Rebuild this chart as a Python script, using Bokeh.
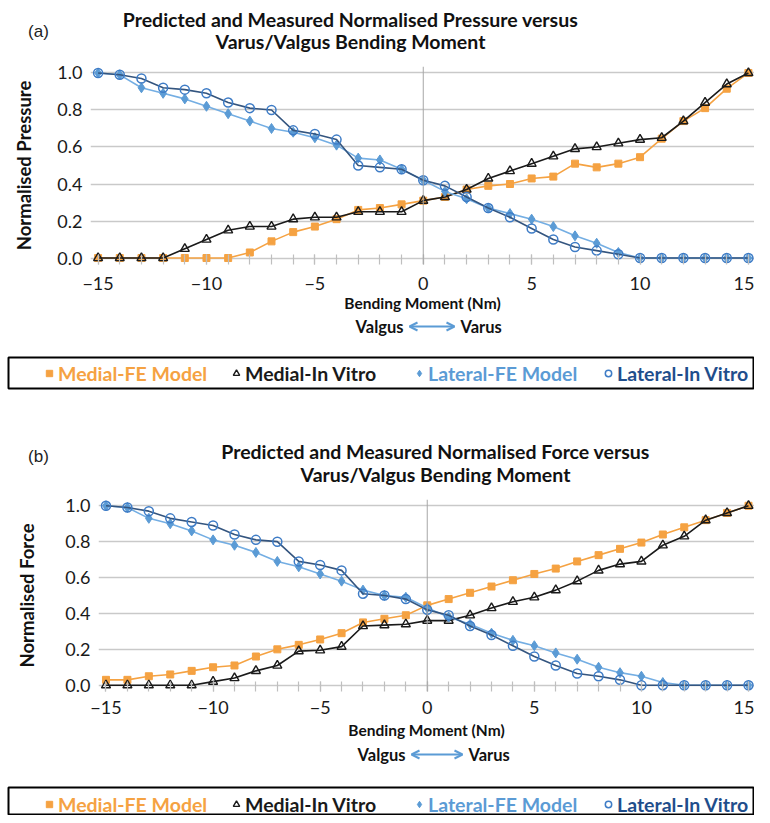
from bokeh.plotting import figure
from bokeh.models import (Range1d, FixedTicker, NumeralTickFormatter, Span, Label, Legend,
                          LegendItem, BoxAnnotation, Arrow, OpenHead)
from bokeh.layouts import column
from bokeh.embed import file_html
from bokeh.resources import INLINE

# ---------------- data ----------------
moment = list(range(-15, 16))
x_ticks = [-15, -10, -5, 0, 5, 10, 15]
x_tick_labels = ["\u221215", "\u221210", "\u22125", "0", "5", "10", "15"]
y_ticks = [0.0, 0.2, 0.4, 0.6, 0.8, 1.0]
series_names = ["Medial-FE Model", "Medial-In Vitro", "Lateral-FE Model", "Lateral-In Vitro"]

# (a) normalised pressure
pressure_medial_fe = [0, 0, 0, 0, 0, 0, 0, 0.03, 0.09, 0.14, 0.17, 0.21, 0.26, 0.27, 0.29, 0.31,
                      0.33, 0.37, 0.39, 0.40, 0.43, 0.44, 0.51, 0.49, 0.51, 0.545, 0.645, 0.74,
                      0.81, 0.915, 1.00]
pressure_medial_iv = [0, 0, 0, 0, 0.05, 0.10, 0.15, 0.17, 0.17, 0.21, 0.22, 0.22, 0.25, 0.25, 0.25,
                      0.31, 0.33, 0.37, 0.43, 0.47, 0.51, 0.55, 0.59, 0.60, 0.62, 0.64, 0.65, 0.74,
                      0.84, 0.94, 1.00]
pressure_lateral_fe = [1.00, 0.99, 0.92, 0.89, 0.86, 0.82, 0.78, 0.74, 0.70, 0.68, 0.65, 0.61, 0.54,
                       0.53, 0.48, 0.42, 0.36, 0.32, 0.27, 0.24, 0.21, 0.17, 0.12, 0.08, 0.03, 0, 0,
                       0, 0, 0, 0]
pressure_lateral_iv = [1.00, 0.99, 0.97, 0.92, 0.91, 0.89, 0.84, 0.81, 0.80, 0.69, 0.67, 0.64, 0.50,
                       0.49, 0.48, 0.42, 0.39, 0.33, 0.27, 0.22, 0.16, 0.10, 0.06, 0.04, 0.02, 0, 0,
                       0, 0, 0, 0]

# (b) normalised force
force_medial_fe = [0.03, 0.03, 0.05, 0.06, 0.08, 0.10, 0.11, 0.16, 0.20, 0.225, 0.255, 0.29, 0.35,
                   0.37, 0.39, 0.445, 0.48, 0.515, 0.55, 0.585, 0.62, 0.65, 0.69, 0.725, 0.76, 0.795,
                   0.84, 0.88, 0.92, 0.96, 1.00]
force_medial_iv = [0, 0, 0, 0, 0, 0.02, 0.04, 0.08, 0.11, 0.19, 0.195, 0.215, 0.33, 0.335, 0.34,
                   0.36, 0.36, 0.39, 0.43, 0.465, 0.49, 0.53, 0.58, 0.64, 0.675, 0.69, 0.78, 0.83,
                   0.92, 0.96, 1.00]
force_lateral_fe = [1.00, 0.99, 0.93, 0.90, 0.86, 0.81, 0.78, 0.74, 0.69, 0.66, 0.62, 0.58, 0.53,
                    0.50, 0.49, 0.43, 0.38, 0.34, 0.29, 0.25, 0.22, 0.18, 0.145, 0.10, 0.07, 0.05,
                    0.015, 0, 0, 0, 0]
force_lateral_iv = [1.00, 0.99, 0.97, 0.93, 0.91, 0.89, 0.84, 0.81, 0.80, 0.69, 0.67, 0.64, 0.51,
                    0.50, 0.48, 0.42, 0.39, 0.33, 0.28, 0.22, 0.16, 0.11, 0.065, 0.05, 0.03, 0, 0,
                    0, 0, 0, 0]

# ---------------- style ----------------
ORANGE = "#F5A242"
BLACK = "#1A1A1A"
LIGHT_BLUE = "#5B9BD5"
LIGHT_BLUE_LINE = "#74AEE3"
DARK_LINE = "#34557F"
CIRCLE_EDGE = "#3E7CC6"
LEG_COLORS = [ORANGE, BLACK, LIGHT_BLUE, "#1F4E8C"]
GRID = "#C9C9C9"
ARROW = "#5B9BD5"
FONT = "Lato"
W = 754

STYLES = [
    dict(marker="square", size=7, fill_color=ORANGE, line_color=ORANGE, line_width=1),
    dict(marker="triangle", size=9, fill_color=None, line_color=BLACK, line_width=1.4),
    dict(marker="diamond", size=10, fill_color=LIGHT_BLUE, line_color=LIGHT_BLUE, line_width=1),
    dict(marker="circle", size=9, fill_color=None, line_color=CIRCLE_EDGE, line_width=1.5),
]
LINE_COLORS = [ORANGE, BLACK, LIGHT_BLUE_LINE, DARK_LINE]


def text_fig(height):
    f = figure(width=W, height=height, x_range=Range1d(0, W), y_range=Range1d(height, 0),
               x_axis_type=None, y_axis_type=None, output_backend="svg",
               toolbar_location=None, min_border=0, frame_align=False)
    f.outline_line_color = None
    f.background_fill_color = "white"
    f.border_fill_color = "white"
    return f


def header(cfg):
    f = text_fig(cfg["h_head"])
    for txt, yy in zip(cfg["titles"], cfg["title_y"]):
        f.add_layout(Label(x=cfg["title_x"], y=yy, text=txt, text_align="center",
                           text_baseline="middle", text_font=FONT, text_font_style="bold",
                           text_font_size="19.5px", text_color="#111111"))
    f.add_layout(Label(x=cfg["tag_xy"][0], y=cfg["tag_xy"][1], text=cfg["tag"],
                       text_align="center", text_baseline="middle",
                       text_font="Liberation Sans", text_font_size="17px",
                       text_color="#222222"))
    return f


def main_plot(cfg, series):
    p = figure(width=W, height=cfg["h_main"], x_range=Range1d(*cfg["xr"]),
               y_range=Range1d(-0.035, 1.035), output_backend="svg", toolbar_location=None,
               min_border_left=cfg["left"], min_border_right=0, min_border_top=cfg["top"],
               min_border_bottom=cfg["bottom"], frame_align=False)
    p.outline_line_color = None
    p.background_fill_color = "white"
    p.border_fill_color = "white"

    p.xgrid.visible = False
    p.ygrid.ticker = FixedTicker(ticks=y_ticks)
    p.ygrid.grid_line_color = GRID
    p.ygrid.grid_line_width = 1.5

    xa = p.xaxis[0]
    xa.ticker = FixedTicker(ticks=x_ticks, minor_ticks=moment)
    xa.major_label_overrides = {t: l for t, l in zip(x_ticks, x_tick_labels)}
    xa.axis_line_color = None
    xa.major_tick_line_color = "#BFBFBF"
    xa.minor_tick_line_color = "#BFBFBF"
    xa.major_tick_line_width = 1.2
    xa.minor_tick_line_width = 1.2
    xa.major_tick_in = 10
    xa.major_tick_out = 0
    xa.minor_tick_in = 10
    xa.minor_tick_out = 0
    xa.major_label_standoff = cfg["xstand"]
    xa.major_label_text_font = FONT
    xa.major_label_text_font_size = "18px"
    xa.major_label_text_color = "#1A1A1A"
    xa.axis_label = "Bending Moment (Nm)"
    xa.axis_label_standoff = cfg["xlabstand"]
    xa.axis_label_text_font = FONT
    xa.axis_label_text_font_style = "bold"
    xa.axis_label_text_font_size = "15.5px"
    xa.axis_label_text_color = "#111111"

    ya = p.yaxis[0]
    ya.ticker = FixedTicker(ticks=y_ticks)
    ya.formatter = NumeralTickFormatter(format="0.0")
    ya.axis_line_color = None
    ya.major_tick_line_color = None
    ya.minor_tick_line_color = None
    ya.major_label_standoff = cfg["ystand"]
    ya.major_label_text_font = FONT
    ya.major_label_text_font_size = "18px"
    ya.major_label_text_color = "#1A1A1A"
    ya.axis_label = cfg["ylabel"]
    ya.axis_label_standoff = cfg["ylabstand"]
    ya.axis_label_text_font = FONT
    ya.axis_label_text_font_style = "bold"
    ya.axis_label_text_font_size = "18.5px"
    ya.axis_label_text_color = "#111111"

    p.add_layout(Span(location=0, dimension="height", line_color="#A6A6A6", line_width=1))

    for vals, st, lc in zip(series, STYLES, LINE_COLORS):
        p.line(moment, vals, line_color=lc, line_width=1.6)
        p.scatter(moment, vals, **st)
    return p


def footer(cfg, series):
    h = cfg["h_foot"]
    f = text_fig(h)
    vy = cfg["vv_y"]
    f.add_layout(Label(x=cfg["valgus_right"], y=vy, text="Valgus", text_align="right",
                       text_baseline="middle", text_font=FONT, text_font_style="bold",
                       text_font_size="16.5px", text_color="#111111"))
    f.add_layout(Label(x=cfg["varus_left"], y=vy, text="Varus", text_align="left",
                       text_baseline="middle", text_font=FONT, text_font_style="bold",
                       text_font_size="16.5px", text_color="#111111"))
    a0, a1 = cfg["arrow_x"]
    f.add_layout(Arrow(x_start=a0, y_start=vy, x_end=a1, y_end=vy, line_color=ARROW,
                       line_width=2, start=OpenHead(size=8, line_color=ARROW, line_width=2),
                       end=OpenHead(size=8, line_color=ARROW, line_width=2)))
    bx0, bx1, by0, by1 = cfg["box"]
    f.add_layout(BoxAnnotation(left=bx0, right=bx1, top=by0, bottom=by1, fill_color=None,
                               fill_alpha=0, line_color="black", line_width=2, line_alpha=1))
    leg_bottom = cfg["leg_cy"] + 12
    for name, vals, st, col, gx in zip(series_names, series, STYLES, LEG_COLORS, cfg["leg_x"]):
        # hidden copy of the series, used only as the legend swatch
        r = f.scatter(moment, vals, visible=False, **st)
        leg = Legend(items=[LegendItem(label=name, renderers=[r])],
                     location=(gx, h - leg_bottom), orientation="horizontal",
                     border_line_color=None, background_fill_alpha=0, padding=0, margin=0,
                     spacing=0, glyph_width=16, glyph_height=24, label_height=24,
                     label_standoff=1, label_text_font=FONT, label_text_font_style="bold",
                     label_text_font_size="19.5px", label_text_color=col,
                     inactive_fill_alpha=0)
        f.add_layout(leg)
    return f


# pixel layout (header / plot / footer); y measured from each figure's top
cfg_a = dict(h_head=60, h_main=258, h_foot=78,
             titles=["Predicted and Measured Normalised Pressure versus",
                     "Varus/Valgus Bending Moment"],
             title_x=350, title_y=[19, 41], tag="(a)", tag_xy=(38, 31),
             xr=(-15.35, 15.28), left=90, top=6, bottom=54,
             xstand=12, xlabstand=1, ystand=2, ylabstand=19, ylabel="Normalised Pressure",
             vv_y=8, valgus_right=403, varus_left=460, arrow_x=(409, 454),
             box=(8, 753, 39, 70), leg_cy=55, leg_x=[41, 228, 411, 600])

cfg_b = dict(h_head=96, h_main=254, h_foot=69,
             titles=["Predicted and Measured Normalised Force versus",
                     "Varus/Valgus Bending Moment"],
             title_x=435, title_y=[55, 78], tag="(b)", tag_xy=(38, 60),
             xr=(-15.35, 15.28), left=98, top=7, bottom=55,
             xstand=9, xlabstand=4, ystand=2, ylabstand=24, ylabel="Normalised Force",
             vv_y=8, valgus_right=405, varus_left=468, arrow_x=(411, 462),
             box=(8, 753, 41, 68), leg_cy=58, leg_x=[41, 228, 411, 600])

figs = []
for cfg, series in [(cfg_a, [pressure_medial_fe, pressure_medial_iv, pressure_lateral_fe,
                             pressure_lateral_iv]),
                    (cfg_b, [force_medial_fe, force_medial_iv, force_lateral_fe,
                             force_lateral_iv])]:
    figs += [header(cfg), main_plot(cfg, series), footer(cfg, series)]

layout = column(*figs, spacing=0)
open("out.html", "w").write(file_html(layout, INLINE))
